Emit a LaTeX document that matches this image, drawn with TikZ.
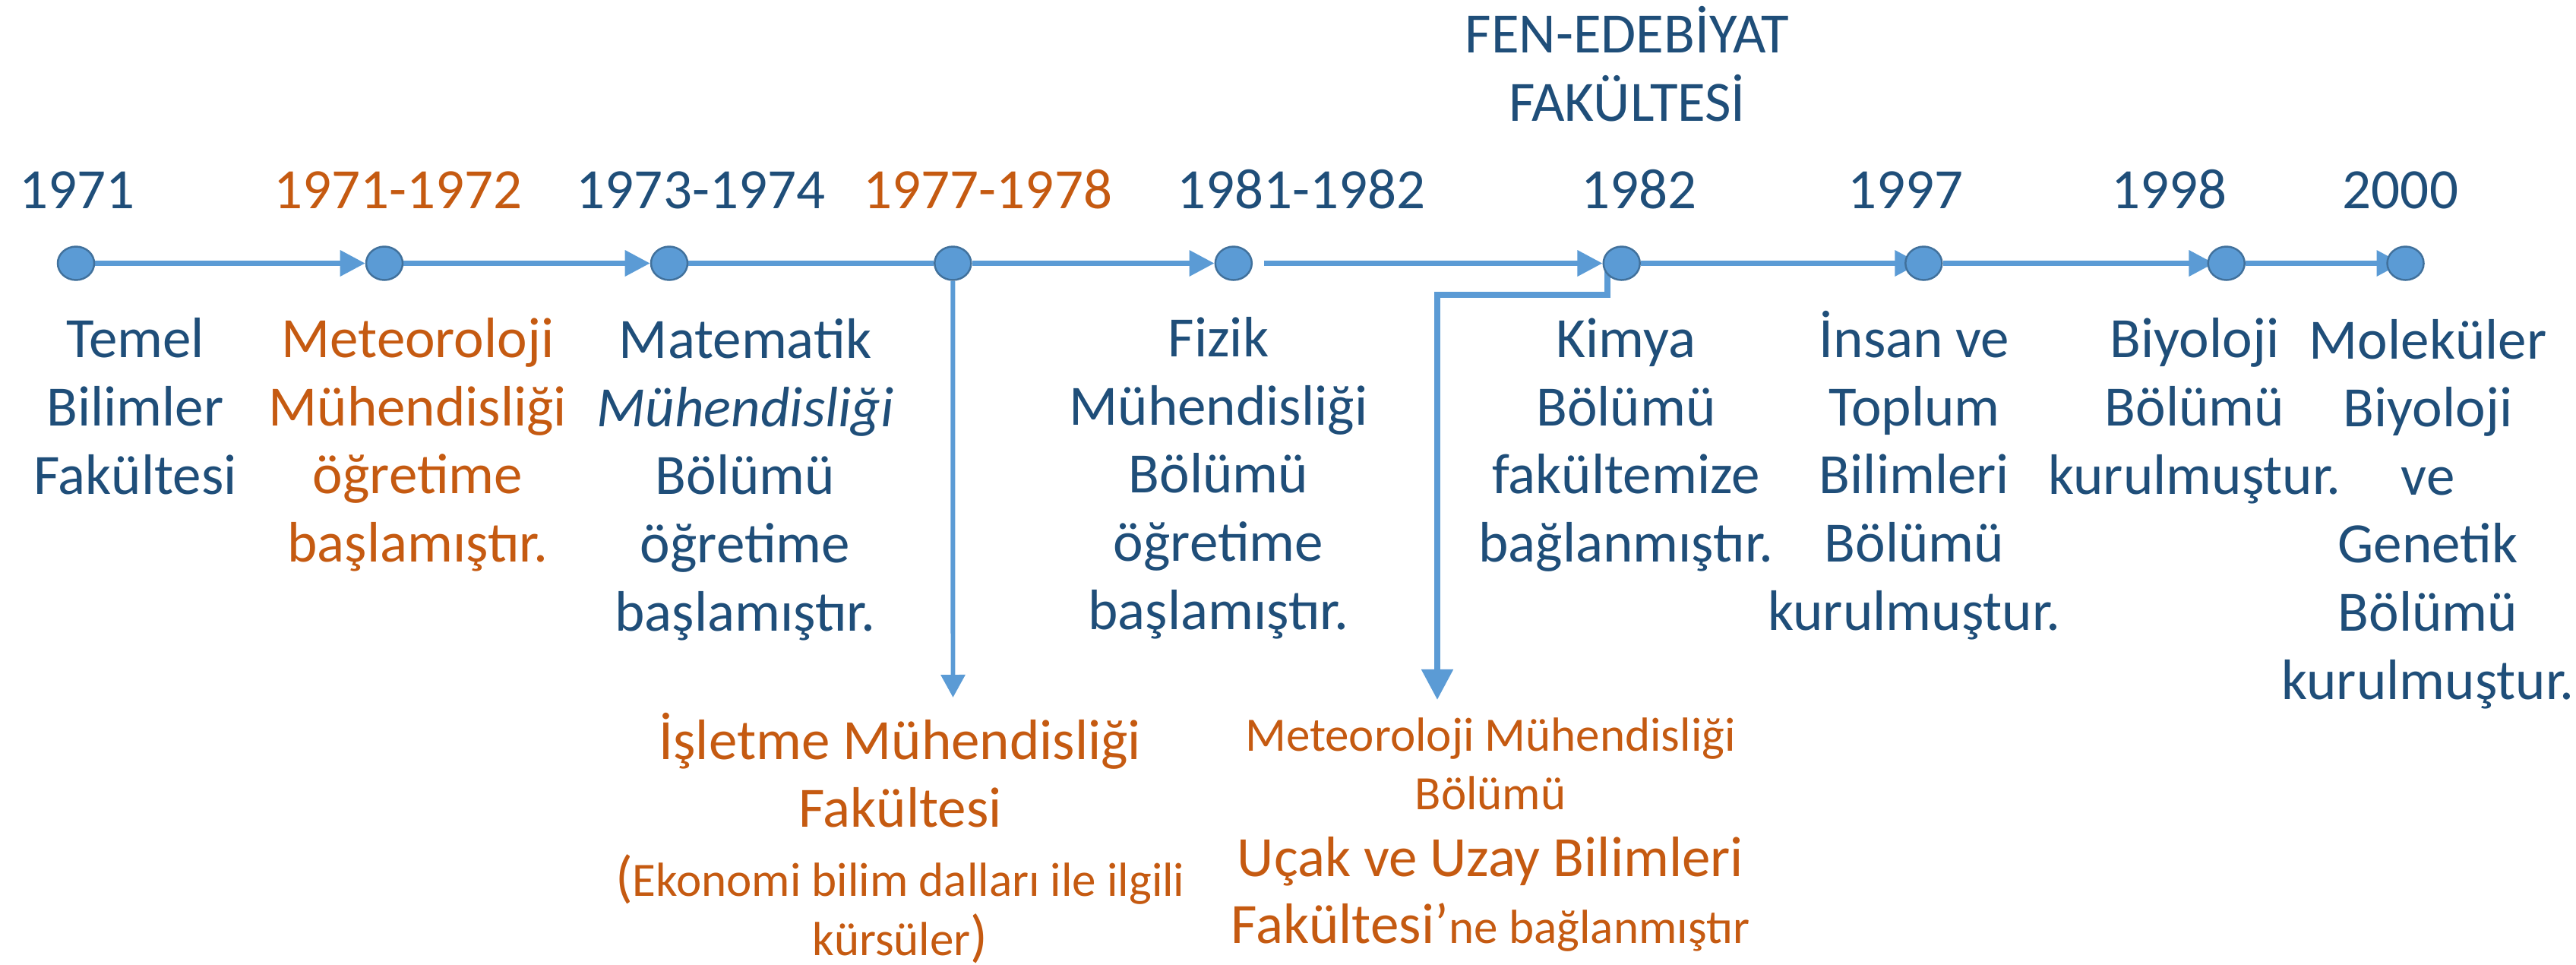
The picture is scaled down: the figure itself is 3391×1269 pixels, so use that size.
\documentclass[tikz,border=0pt]{standalone}
\usepackage{fontspec}
\setmainfont{Carlito}
\usetikzlibrary{arrows.meta,calc,shapes.geometric,backgrounds}
\definecolor{txtblue}{HTML}{1F4E79}
\definecolor{txtorange}{HTML}{C55A11}
\definecolor{linkblue}{HTML}{5B9BD5}
\definecolor{dotedge}{HTML}{41719C}
\newcommand{\fbig}{\fontsize{21.34pt}{25.47pt}\selectfont}
\newcommand{\fbigb}{\fontsize{21.34pt}{25.24pt}\selectfont}
\newcommand{\fbigc}{\fontsize{21.34pt}{25.04pt}\selectfont}
\newcommand{\fsmall}{\fontsize{17.93pt}{21.8pt}\selectfont}
\begin{document}
\begin{tikzpicture}[x=0.01cm,y=-0.01cm,
  year/.style={anchor=base, inner sep=0pt, font=\fbig, text=txtblue},
  blk/.style={anchor=base, inner sep=0pt, align=center, font=\fbig, text=txtblue},
  tdot/.style={ellipse, draw=dotedge, fill=linkblue, line width=0.7pt,
    minimum width=0.48cm, minimum height=0.44cm, inner sep=0pt},
  conn/.style={draw=linkblue, line width=1.9pt},
  arrowend/.style={-{Triangle[length=0.33cm,width=0.33cm]}},
]
\useasboundingbox (0,0) rectangle (3391,1269);

% timeline dots
\node[tdot] (c1) at (100,346.5) {};
\node[tdot] (c2) at (506,346.5) {};
\node[tdot] (c3) at (881,346.5) {};
\node[tdot] (c4) at (1254.3,346.5) {};
\node[tdot] (c5) at (1623.8,346.5) {};
\node[tdot] (c6) at (2134.7,346.5) {};
\node[tdot] (c7) at (2532.3,346.5) {};
\node[tdot] (c8) at (2930.7,346.5) {};
\node[tdot] (c9) at (3166.5,346.5) {};

% years
\node[year] (y1) at (101.7,274.5) {1971};
\node[year, text=txtorange] (y2) at (524,274.5) {1971-1972};
\node[year] (y3) at (922.5,274.5) {1973-1974};
\node[year, text=txtorange] (y4) at (1300.4,274.5) {1977-1978};
\node[year] (y5) at (1712.9,274.5) {1981-1982};
\node[year] (y6) at (2157.7,274.5) {1982};
\node[year] (y7) at (2508.5,274.5) {1997};
\node[year] (y8) at (2855.6,274.5) {1998};
\node[year] (y9) at (3159.9,274.5) {2000};
% (multi-line nodes: base anchor = baseline of last line)
\node[blk] (fen) at (2142,159.3) {FEN-EDEBİYAT\\FAKÜLTESİ};

% descriptions
\node[blk] (t1) at (178,650) {Temel\\Bilimler\\Fakültesi};
\node[blk, text=txtorange] (t2) at (550,739.5) {Meteoroloji\\Mühendisliği\\öğretime\\başlamıştır.};
\node[blk] (t3) at (981,830) {Matematik\\\textit{Mühendisliği}\\Bölümü\\öğretime\\başlamıştır.};
\node[blk] (t4) at (1604,828) {Fizik\\Mühendisliği\\Bölümü\\öğretime\\başlamıştır.};
\node[blk] (t5) at (2140.5,739.5) {Kimya\\Bölümü\\fakültemize\\bağlanmıştır.};
\node[blk] (t6) at (2520,829) {İnsan ve\\Toplum\\Bilimleri\\Bölümü\\kurulmuştur.};
\node[blk] (t7) at (2889,650) {Biyoloji\\Bölümü\\kurulmuştur.};
\node[blk] (t8) at (3196,920) {Moleküler\\Biyoloji\\ve\\Genetik\\Bölümü\\kurulmuştur.};

% branch texts
\node[blk, text=txtorange, font=\fbigb] (b1) at (1185,1257.3)
  {İşletme Mühendisliği\\Fakültesi\\[0.54pt](\fsmall Ekonomi bilim dalları ile ilgili\\[-3.04pt]{\fsmall kürsüler})};
\node[blk, text=txtorange, font=\fbigc] (b2) at (1962,1241.7)
  {{\fsmall Meteoroloji Mühendisliği}\\[-3.22pt]{\fsmall Bölümü}\\[-0.1pt]Uçak ve Uzay Bilimleri\\[0.1pt]Fakültesi’{\fsmall ne bağlanmıştır}};

% connectors
\begin{scope}[on background layer]
\draw[conn, arrowend] (c1) -- (c2);
\draw[conn, arrowend] (c2) -- (c3);
\draw[conn] (c3) -- (c4);
\draw[conn, arrowend] (c4) -- (c5);
\draw[conn, arrowend, shorten <=0.15cm] (c5) -- (c6);
\draw[conn, arrowend] (c6) -- ($(c7.center)+(-5,0)$);
\draw[conn, arrowend] (c7) -- ($(c8.west)+(9,0)$);
\draw[conn, arrowend] (c8) -- ($(c9.center)+(-5,0)$);
\coordinate (d1) at (1254.5,918);
\draw[conn, line width=1.7pt, -{Triangle[length=0.30cm,width=0.31cm]}] (c4) -- (d1);
\coordinate (k1) at (1892,388);
\coordinate (d2) at (1892,921);
\draw[conn, line width=2.3pt, -{Triangle[length=0.40cm,width=0.40cm]}]
  ($(c6.center)+(-18.7,0)$) |- (k1) -- (d2);
\end{scope}
\end{tikzpicture}
\end{document}
